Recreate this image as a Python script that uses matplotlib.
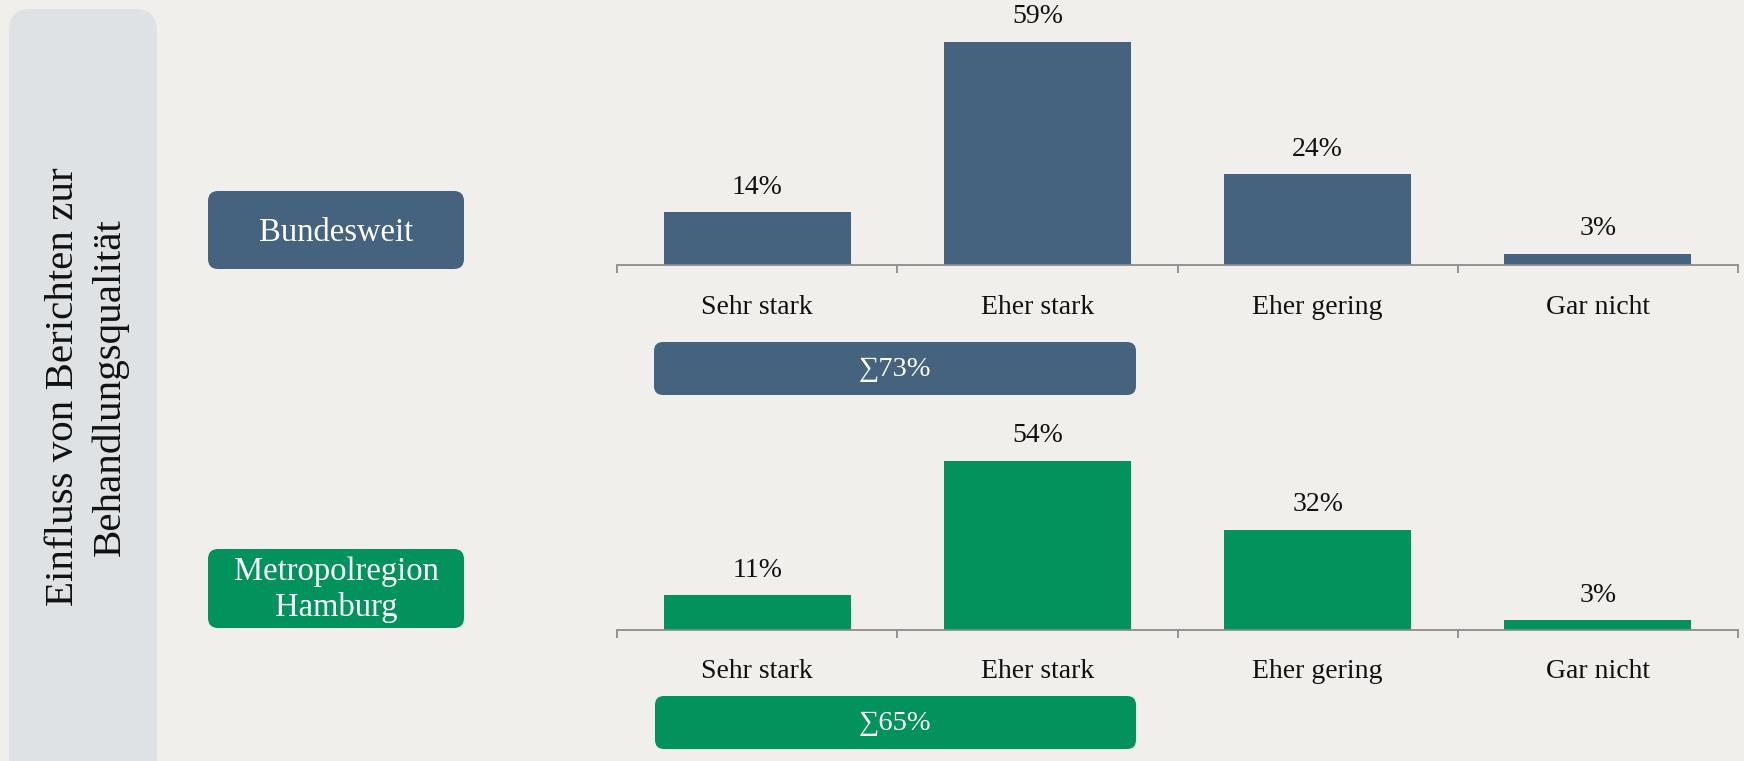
import matplotlib.pyplot as plt
from matplotlib.patches import FancyBboxPatch

categories = ["Sehr stark", "Eher stark", "Eher gering", "Gar nicht"]
bundesweit = [14, 59, 24, 3]
hamburg = [11, 54, 32, 3]
group_labels = ["Bundesweit", "Metropolregion\nHamburg"]
title = "Einfluss von Berichten zur\nBehandlungsqualität"

BLUE = "#45627f"
GREEN = "#02925b"
BG = "#f0efeb"
PANEL = "#dfe2e4"
AXIS = "#8c8c8c"
FONT = ["Liberation Serif", "DejaVu Serif"]

plt.rcParams["font.family"] = FONT

W, H = 1744, 761
fig = plt.figure(figsize=(W / 100, H / 100), dpi=100, facecolor=BG)

# overlay in pixel units for the rounded boxes
bg = fig.add_axes([0, 0, 1, 1], zorder=0)
bg.set_xlim(0, W)
bg.set_ylim(H, 0)
bg.axis("off")


def rbox(x, y, w, h, color, r=12):
    bg.add_patch(FancyBboxPatch((x, y), w, h, boxstyle=f"round,pad=0,rounding_size={r}",
                                fc=color, ec="none"))


rbox(9, 9, 148, 800, PANEL, r=22)
bg.text(87, 387, title, rotation=90, ha="center", va="center", fontsize=29.5,
        color="#111111", linespacing=1.3)

rbox(208, 191, 256, 78, BLUE, r=10)
bg.text(336, 233, group_labels[0], ha="center", va="center", fontsize=23.5, color="white")
rbox(208, 549, 256, 79, GREEN, r=10)
bg.text(336, 590, group_labels[1], ha="center", va="center", fontsize=23.5, color="white",
        linespacing=1.2)

sums = [sum(bundesweit[:2]), sum(hamburg[:2])]
rbox(654, 342, 482, 53, BLUE, r=9)
bg.text(895, 370, f"∑{sums[0]}%", ha="center", va="center", fontsize=20.5, color="white")
rbox(655, 696, 481, 53, GREEN, r=9)
bg.text(895, 724, f"∑{sums[1]}%", ha="center", va="center", fontsize=20.5, color="white")


def bar_panel(rect, values, color):
    ax = fig.add_axes(rect, zorder=1)
    ax.set_facecolor("none")
    x = range(len(values))
    bars = ax.bar(x, values, width=0.667, color=color)
    for b, v in zip(bars, values):
        ax.annotate(f"{v}%", (b.get_x() + b.get_width() / 2, v), xytext=(0, 18),
                    textcoords="offset points", ha="center", va="center",
                    fontsize=20, color="#111111")
    ax.set_xlim(-0.5, len(values) - 0.5)
    ax.set_ylim(0, 65)
    for s in ["left", "top", "right"]:
        ax.spines[s].set_visible(False)
    ax.spines["bottom"].set_color(AXIS)
    ax.spines["bottom"].set_linewidth(1.3)
    ax.set_yticks([])
    ax.set_xticks(list(x))
    ax.set_xticklabels(categories, fontsize=20, color="#111111")
    ax.tick_params(axis="x", which="major", length=0, pad=21.5)
    ax.set_xticks([i - 0.5 for i in range(len(values) + 1)], minor=True)
    ax.tick_params(axis="x", which="minor", length=6, width=1.3, color=AXIS, direction="out")
    return ax


bar_panel([617 / W, (H - 265) / H, 1121 / W, 246 / H], bundesweit, BLUE)
bar_panel([617 / W, (H - 629.5) / H, 1121 / W, 203 / H], hamburg, GREEN)

fig.savefig("out.png", dpi=100, facecolor=BG)
